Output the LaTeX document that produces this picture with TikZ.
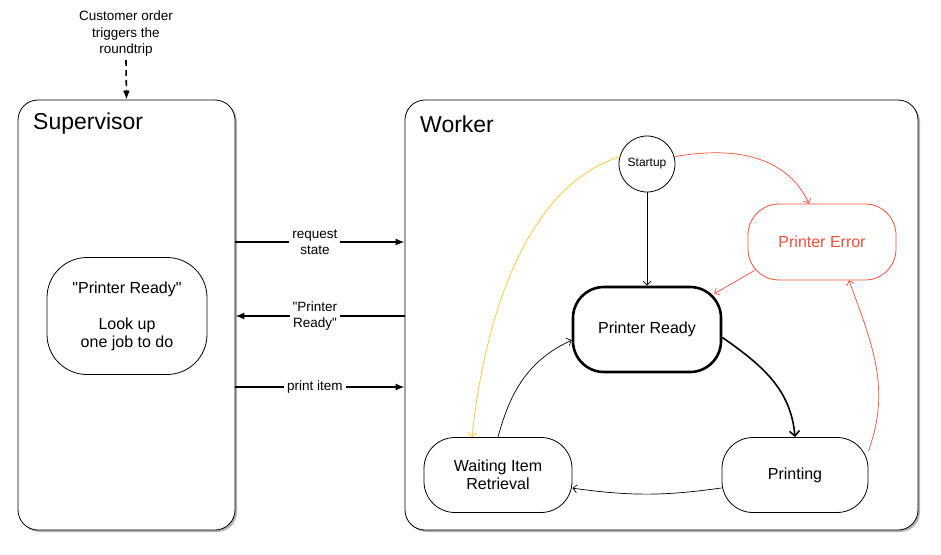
\documentclass[tikz,border=0pt]{standalone}
\usepackage{fontspec}
\setmainfont{Liberation Sans}
\usepackage{tikz}
\usetikzlibrary {
  positioning,
  shadows,
  arrows.meta,
}
\definecolor{errred}{RGB}{240,80,60}
\definecolor{initgold}{RGB}{250,195,45}
\newcommand{\dq}{\XeTeXglyph\XeTeXglyphindex "quotedbl"\relax}
\tikzset{
  panel/.style = {
    rectangle,
    draw = black,
    fill = white,
    line width = .8pt,
    rounded corners = 20pt,
    drop shadow = {shadow xshift = 2pt, shadow yshift = -2pt, opacity = .6}
  },
  title/.style = {
    anchor = west,
    inner sep = 0pt,
    font = \fontsize{23}{26}\selectfont
  },
  state/.style = {
    rectangle,
    rounded corners = 31pt,
    draw = black,
    fill = white,
    line width = .8pt,
    minimum width = 148pt,
    minimum height = 75pt,
    align = center,
    font = \fontsize{16}{18}\selectfont
  },
  msg/.style = {
    fill = white,
    align = center,
    inner sep = 3pt,
    font = \fontsize{13.5}{16.5}\selectfont
  },
  call/.style = {
    -{Latex[length = 9pt, width = 7pt]},
    line width = 1.6pt
  },
  edge/.style = {
    -{Straight Barb[length = 4pt, width = 8pt]},
    line width = .7pt
  },
  main/.style = {
    -{Straight Barb[length = 5pt, width = 10pt]},
    line width = 1.6pt
  },
}

\begin{document}
\begin{tikzpicture}[x = 1pt, y = 1pt]
  \useasboundingbox (0,0) rectangle (941,-554);
  \node[panel, minimum width = 217pt, minimum height = 430pt] (sup) at (126.5,-315) {};
  \node[panel, minimum width = 513pt, minimum height = 430pt] (wrk) at (661.5,-315) {};
  \node[title] (suptitle) at (33,-124) {Supervisor};
  \node[title] (wrktitle) at (420,-124) {Worker};
  \node[msg, fill = none] (order) at (126,-34) {Customer order\\triggers the\\roundtrip};
  \draw[call, dash pattern = on 6pt off 4pt] (order.south) -- (sup.north);

  \node[state, rounded corners = 40pt, minimum width = 160pt, minimum height = 117pt]
    (lookup) at (127,-316) {\dq Printer Ready\dq\\[18pt]Look up\\one job to do};

  \coordinate (req) at (315,-242);
  \coordinate (rdy) at (315,-316);
  \coordinate (itm) at (315,-387);
  \draw[call] (sup.east |- req) -- node[msg, pos = .47] {request\\state} (wrk.west |- req);
  \draw[call] (wrk.west |- rdy) -- node[msg, pos = .53] {\dq Printer\\Ready\dq} (sup.east |- rdy);
  \draw[call] (sup.east |- itm) -- node[msg, pos = .47] {print item} (wrk.west |- itm);

  \node[circle, draw, line width = .8pt, minimum size = 56pt, inner sep = 0pt,
    font = \fontsize{12}{14}\selectfont] (start) at (647,-164) {Startup};
  \node[state, draw = errred, text = errred, minimum height = 76pt] (err) at (822,-242) {Printer Error};
  \node[state, line width = 2.6pt, minimum height = 85pt] (pr) at (647,-329.5) {Printer Ready};
  \node[state, minimum width = 146pt] (prt) at (795,-475) {Printing};
  \node[state] (wait) at (498,-475) {Waiting Item\\Retrieval};

  \draw[edge] (start) -- (pr);
  \draw[edge, errred] (start.15) to[out = 10, in = 115] ([xshift = -13pt]err.north);
  \draw[edge, initgold] (start.165) to[out = 198, in = 84, looseness = .85] ([xshift = -26pt]wait.north);
  \draw[edge, errred] ([xshift = 7pt, yshift = 10pt]err.south west) -- ([xshift = -8pt, yshift = -8pt]pr.north east);
  \draw[edge, errred] (prt.18) to[out = 70, in = -70] ([xshift = 27pt]err.south);
  \draw[main] (pr.-6) to[out = -35, in = 95] (prt.north);
  \draw[edge] (prt.190) to[bend left = 8] (wait.-10);
  \draw[edge] (wait.north) to[out = 75, in = 205] (pr.188);
\end{tikzpicture}
\end{document}
